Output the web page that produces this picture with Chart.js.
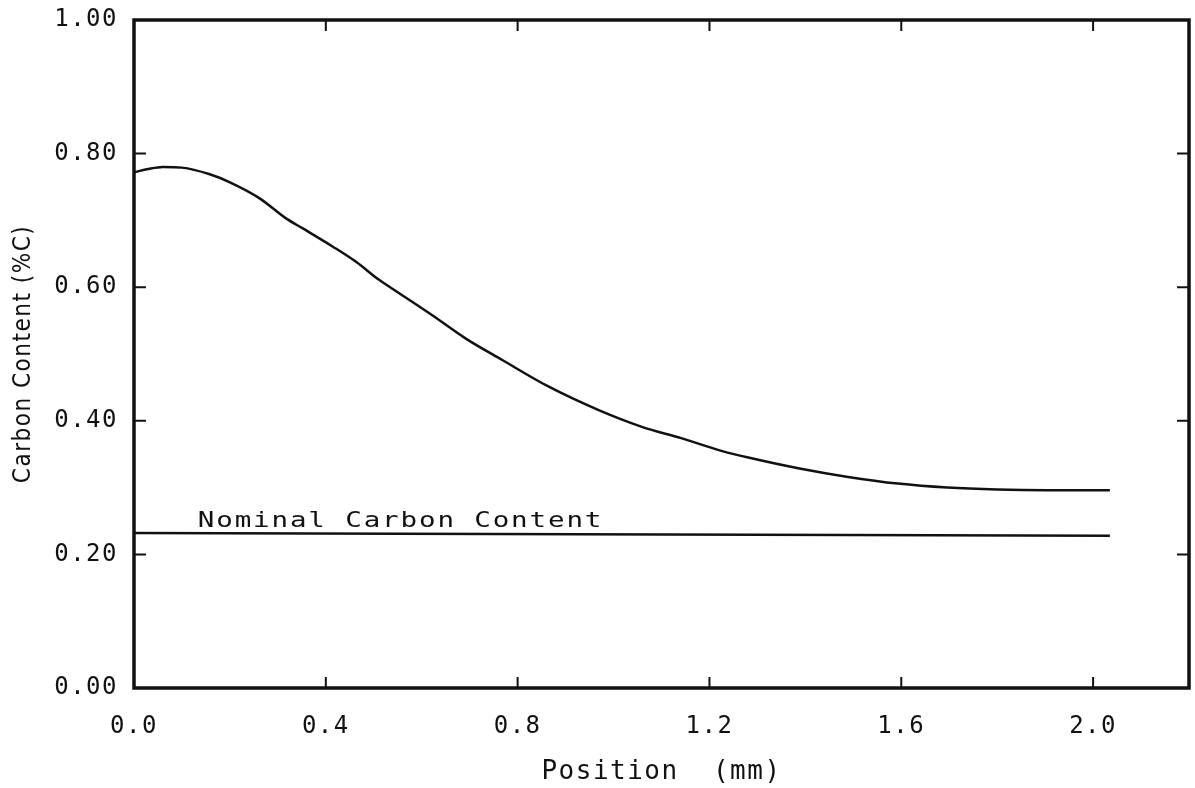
<!DOCTYPE html>
<html>
<head>
<meta charset="utf-8">
<script src="https://cdn.jsdelivr.net/npm/chart.js@4/dist/chart.umd.min.js"></script>
<style>
    html, body { margin: 0; padding: 0; background: #fff; }
    #wrap { width: 1195px; height: 788px; }
</style>
</head>
<body>
<div id="wrap"><canvas id="graph"></canvas></div>
<script>
/* values */
const position_mm = [0.0, 0.03, 0.06, 0.10, 0.158, 0.20, 0.262, 0.317, 0.352, 0.414, 0.463, 0.511,
    0.553, 0.622, 0.692, 0.768, 0.865, 0.969, 1.059, 1.141, 1.225, 1.281, 1.385, 1.489,
    1.593, 1.696, 1.80, 1.904, 2.035];
const carbon_pct = [0.772, 0.777, 0.780, 0.779, 0.769, 0.757, 0.733, 0.703, 0.688, 0.661, 0.638, 0.611,
    0.591, 0.558, 0.523, 0.491, 0.451, 0.416, 0.391, 0.374, 0.355, 0.345, 0.329, 0.316,
    0.306, 0.300, 0.297, 0.296, 0.296];

const nominal_x = [0.0, 2.035];
const nominal_c = [0.232, 0.228];
const nominal_text = "Nominal Carbon Content";
const nominal_text_at = [0.133, 0.241];

const x_ticks = [0.0, 0.4, 0.8, 1.2, 1.6, 2.0];
const y_ticks = [0.0, 0.2, 0.4, 0.6, 0.8, 1.0];

const ink = "#111";
const mono = "'DejaVu Sans Mono', 'Liberation Mono', monospace";

function pts(xs, ys) {
    const out = [];
    for (let i = 0; i < xs.length; i++) {
        out.push({ x: xs[i], y: ys[i] });
    }
    return out;
}

/* frame, inward ticks on all four sides, curve label */
const framePlugin = {
    id: "frame",
    beforeDraw(chart) {
        chart.ctx.letterSpacing = "1.5px";
    },
    afterDatasetsDraw(chart) {
        const ctx = chart.ctx;
        const xs = chart.scales.x;
        const ys = chart.scales.y;
        const tx = xs.getPixelForValue(nominal_text_at[0]);
        const ty = ys.getPixelForValue(nominal_text_at[1]);
        ctx.save();
        ctx.fillStyle = ink;
        ctx.font = "22px " + mono;
        ctx.letterSpacing = "1.5px";
        ctx.textBaseline = "alphabetic";
        ctx.translate(tx, ty);
        ctx.scale(1.25, 1);
        ctx.fillText(nominal_text, 0, 0);
        ctx.restore();
    },
    afterDraw(chart) {
        const ctx = chart.ctx;
        const a = chart.chartArea;
        const xs = chart.scales.x;
        const ys = chart.scales.y;
        ctx.save();
        ctx.strokeStyle = ink;
        ctx.lineWidth = 2;
        ctx.beginPath();
        for (const v of x_ticks) {
            if (v === 0) continue;
            const px = xs.getPixelForValue(v);
            ctx.moveTo(px, a.bottom);
            ctx.lineTo(px, a.bottom - 11);
            ctx.moveTo(px, a.top);
            ctx.lineTo(px, a.top + 11);
        }
        for (const v of y_ticks) {
            if (v === 0 || v === 1) continue;
            const py = ys.getPixelForValue(v);
            ctx.moveTo(a.left, py);
            ctx.lineTo(a.left + 12, py);
            ctx.moveTo(a.right, py);
            ctx.lineTo(a.right - 12, py);
        }
        ctx.stroke();
        ctx.lineWidth = 3.5;
        ctx.strokeRect(a.left, a.top, a.right - a.left, a.bottom - a.top);
        ctx.restore();
    },
};

const ctx = document.getElementById("graph");
const graph = new Chart(ctx, {
    type: "line",
    data: {
        datasets: [
            {
                label: "Carbon Content",
                data: pts(position_mm, carbon_pct),
                borderColor: ink,
                borderWidth: 2.5,
                pointRadius: 0,
                cubicInterpolationMode: "monotone",
                fill: false,
            },
            {
                label: "Nominal",
                data: pts(nominal_x, nominal_c),
                borderColor: ink,
                borderWidth: 2.5,
                pointRadius: 0,
                fill: false,
            },
        ],
    },
    options: {
        responsive: true,
        maintainAspectRatio: false,
        animation: false,
        events: [],
        layout: { padding: { top: 20, right: 6, left: 0, bottom: 0 } },
        plugins: {
            legend: { display: false },
            tooltip: { enabled: false },
        },
        scales: {
            x: {
                type: "linear",
                min: 0,
                max: 2.2,
                afterBuildTicks: (s) => { s.ticks = x_ticks.map((v) => ({ value: v })); },
                afterFit: (s) => { s.height = 100; s.paddingLeft = 0; s.paddingRight = 0; },
                grid: { display: false, drawTicks: false },
                border: { display: false },
                ticks: {
                    color: ink,
                    padding: 24,
                    maxRotation: 0,
                    font: { family: mono, size: 24 },
                    callback: (v) => Number(v).toFixed(1),
                },
                title: {
                    display: true,
                    text: "Position  (mm)",
                    color: ink,
                    padding: { top: 0, bottom: 0 },
                    font: { family: mono, size: 26 },
                },
            },
            y: {
                type: "linear",
                min: 0,
                max: 1,
                afterBuildTicks: (s) => { s.ticks = y_ticks.map((v) => ({ value: v })); },
                afterFit: (s) => { s.width = 134; s.paddingTop = 0; s.paddingBottom = 0; },
                grid: { display: false, drawTicks: false },
                border: { display: false },
                ticks: {
                    color: ink,
                    padding: 16,
                    font: { family: mono, size: 24 },
                    callback: (v) => Number(v).toFixed(2),
                },
                title: {
                    display: true,
                    text: "Carbon Content (%C)",
                    color: ink,
                    padding: { top: 9, bottom: 0 },
                    font: { family: "'Liberation Sans Narrow', 'DejaVu Sans Condensed', " + mono, size: 24 },
                },
            },
        },
    },
    plugins: [framePlugin],
});
</script>
</body>
</html>
